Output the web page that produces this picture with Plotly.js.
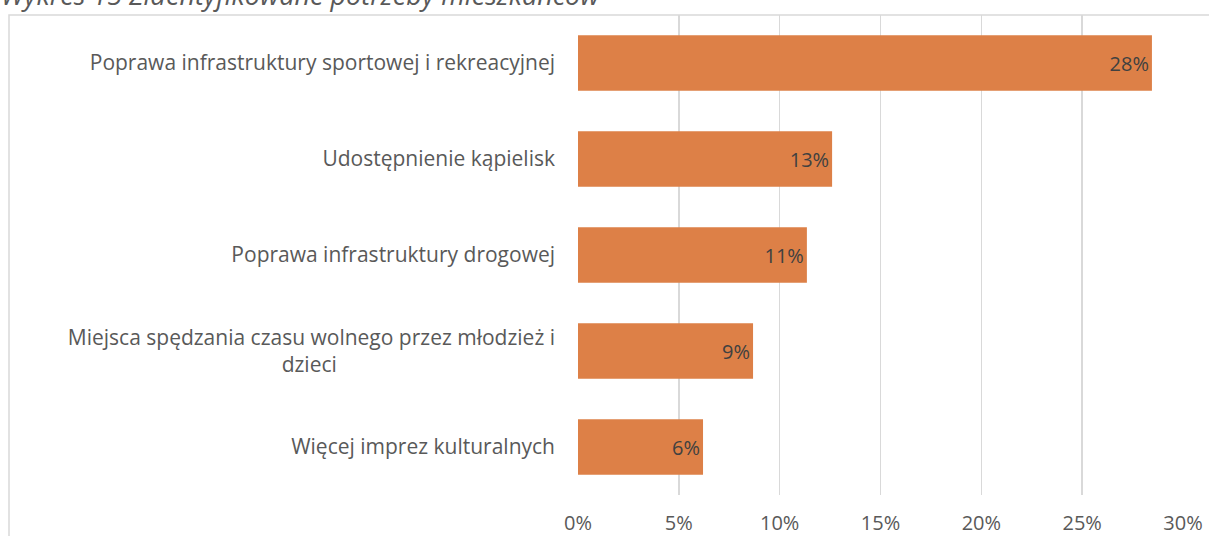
<!DOCTYPE html>
<html>
<head>
<meta charset="utf-8">
<script src="https://cdn.plot.ly/plotly-3.0.1.min.js"></script>
<style>
  html, body { margin: 0; padding: 0; background: #ffffff; }
  #chart { width: 1209px; height: 536px; }
</style>
</head>
<body>
<div id="chart"></div>
<script>
// Categories (top to bottom in the picture)
const categories = [
  "Poprawa infrastruktury sportowej i rekreacyjnej",
  "Udostępnienie kąpielisk",
  "Poprawa infrastruktury drogowej",
  "Miejsca spędzania czasu wolnego przez młodzież i<br>dzieci" + "\u00a0".repeat(40),
  "Więcej imprez kulturalnych"
];
// Share of respondents (%)
const values = [28.46, 12.6, 11.35, 8.68, 6.2];
// X axis ticks
const tickVals = [0, 5, 10, 15, 20, 25, 30];
const tickText = ["0%", "5%", "10%", "15%", "20%", "25%", "30%"];
const chartTitle = "Wykres 15 Zidentyfikowane potrzeby mieszkańców";

const FONT = "'Open Sans', 'Noto Sans', sans-serif";

const trace = {
  type: "bar",
  orientation: "h",
  y: categories,
  x: values,
  marker: { color: "#dd8047" },
  texttemplate: "%{x:.0f}%",
  textposition: "inside",
  insidetextanchor: "end",
  textfont: { family: FONT, size: 20, color: "#404040" },
  hoverinfo: "none",
  cliponaxis: false
};

const layout = {
  width: 1209,
  height: 536,
  margin: { l: 578, r: 26, t: 15, b: 41, pad: 0 },
  paper_bgcolor: "#ffffff",
  plot_bgcolor: "#ffffff",
  showlegend: false,
  bargap: 0.42,
  font: { family: FONT, size: 21, color: "#595959" },
  xaxis: {
    range: [0, 30],
    tickvals: tickVals,
    ticktext: tickText,
    showgrid: true,
    gridcolor: "#d9d9d9",
    gridwidth: 1.5,
    zeroline: false,
    showline: false,
    ticks: "",
    tickfont: { size: 20, color: "#595959" },
    ticklabelstandoff: 14,
    fixedrange: true
  },
  yaxis: {
    autorange: "reversed",
    showgrid: false,
    zeroline: false,
    showline: false,
    ticks: "",
    ticklabelstandoff: 22,
    tickfont: { size: 21, color: "#595959" },
    fixedrange: true
  },
  shapes: [
    {
      type: "rect", xref: "paper", yref: "paper",
      x0: -0.9405, x1: 1.2, y0: -0.3, y1: 1.0,
      line: { color: "#d9d9d9", width: 1.5 },
      fillcolor: "rgba(0,0,0,0)",
      layer: "below"
    }
  ],
  annotations: [
    {
      text: chartTitle,
      xref: "paper", yref: "paper",
      x: -0.957, y: 1.043,
      xanchor: "left", yanchor: "middle",
      showarrow: false,
      font: { family: FONT, size: 27, color: "#595959", style: "italic" }
    }
  ]
};

Plotly.newPlot("chart", [trace], layout, { displayModeBar: false, staticPlot: true });
</script>
</body>
</html>
